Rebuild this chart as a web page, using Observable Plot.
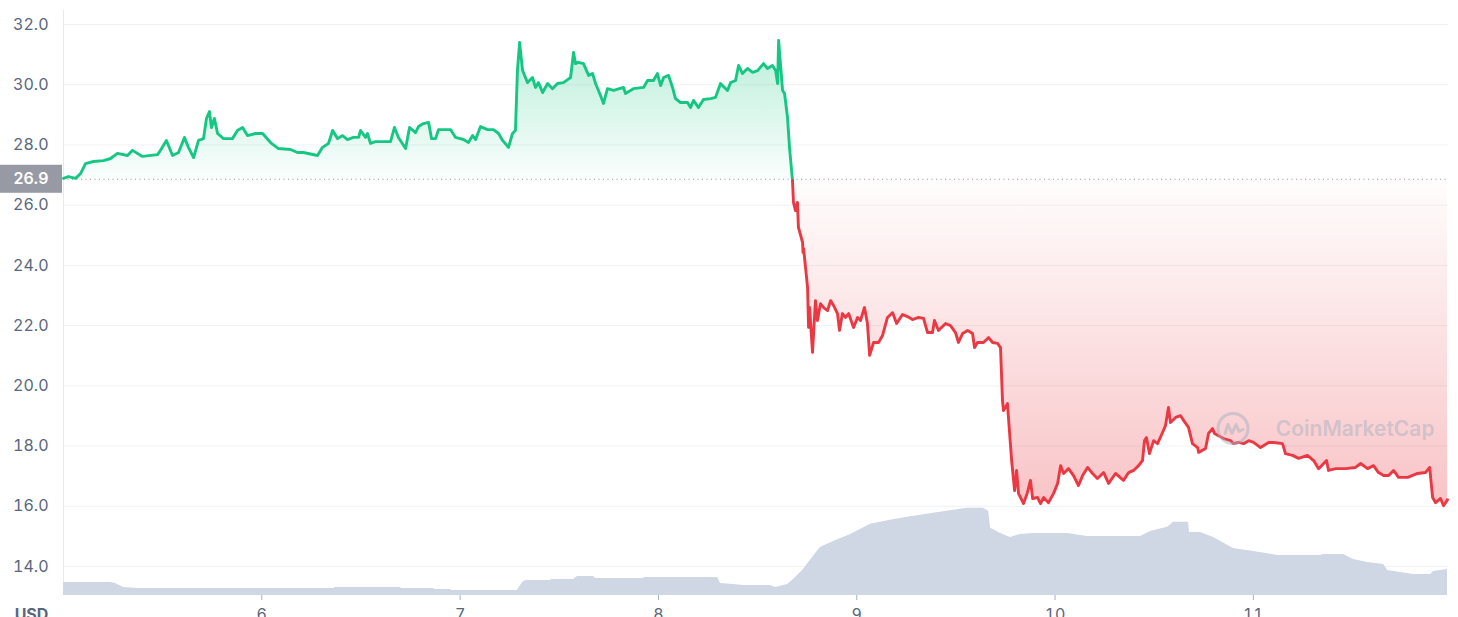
<!DOCTYPE html>
<html><head><meta charset="utf-8">
<script src="https://cdn.jsdelivr.net/npm/d3@7"></script>
<script src="https://cdn.jsdelivr.net/npm/@observablehq/plot@0.6"></script>
<style>html,body{margin:0;padding:0;background:#fff;overflow:hidden;}#chart svg{display:block;}</style>
</head><body><div id="chart"></div>
<script>
const priceDays = [
5.000,5.025,5.061,5.086,5.111,5.151,5.202,5.237,5.272,5.323,
5.348,5.398,5.474,5.489,5.519,5.550,5.580,5.610,5.630,5.656,
5.681,5.706,5.721,5.736,5.746,5.761,5.777,5.807,5.852,5.877,
5.903,5.928,5.968,6.004,6.044,6.084,6.145,6.180,6.210,6.281,
6.306,6.336,6.357,6.382,6.407,6.432,6.462,6.488,6.498,6.523,
6.533,6.548,6.573,6.649,6.669,6.689,6.725,6.745,6.775,6.790,
6.815,6.841,6.856,6.876,6.891,6.952,6.977,7.017,7.042,7.063,
7.078,7.103,7.138,7.168,7.194,7.214,7.244,7.264,7.279,7.289,
7.300,7.315,7.340,7.365,7.380,7.395,7.416,7.441,7.466,7.491,
7.521,7.542,7.557,7.572,7.582,7.597,7.622,7.648,7.668,7.683,
7.708,7.723,7.743,7.774,7.824,7.834,7.874,7.925,7.945,7.975,
7.995,8.011,8.026,8.051,8.071,8.086,8.111,8.147,8.162,8.177,
8.202,8.227,8.263,8.288,8.313,8.348,8.364,8.389,8.404,8.424,
8.449,8.475,8.500,8.530,8.550,8.575,8.591,8.601,8.606,8.626,
8.636,8.651,8.661,8.676,
8.681,8.691,8.701,8.706,8.727,8.729,8.732,8.752,8.757,8.762,
8.777,8.792,8.802,8.817,8.833,8.853,8.868,8.883,8.903,8.913,
8.928,8.944,8.959,8.984,9.004,9.019,9.039,9.054,9.065,9.085,
9.110,9.130,9.155,9.181,9.201,9.231,9.256,9.281,9.312,9.337,
9.357,9.382,9.392,9.412,9.448,9.473,9.498,9.513,9.534,9.559,
9.584,9.594,9.609,9.639,9.665,9.685,9.710,9.725,9.735,9.740,
9.760,9.765,9.781,9.796,9.806,9.816,9.841,9.861,9.876,9.887,
9.912,9.927,9.942,9.967,9.992,10.013,10.028,10.043,10.068,10.093,
10.118,10.139,10.164,10.189,10.214,10.245,10.270,10.305,10.345,10.371,
10.396,10.421,10.441,10.451,10.461,10.476,10.497,10.517,10.542,10.557,
10.572,10.582,10.608,10.633,10.648,10.673,10.693,10.719,10.724,10.759,
10.774,10.794,10.804,10.850,10.885,10.900,10.925,10.951,10.976,11.001,
11.036,11.077,11.102,11.147,11.162,11.198,11.228,11.273,11.304,11.329,
11.369,11.379,11.415,11.465,11.515,11.541,11.576,11.606,11.631,11.657,
11.682,11.707,11.732,11.778,11.828,11.868,11.889,11.904,11.919,11.944,
11.959,11.979];
const priceValues = [
26.89,26.95,26.89,27.05,27.38,27.45,27.48,27.55,27.72,27.65,
27.82,27.62,27.68,27.82,28.15,27.65,27.75,28.25,27.92,27.58,
28.15,28.21,28.88,29.11,28.58,28.88,28.38,28.21,28.21,28.48,
28.58,28.31,28.38,28.38,28.08,27.88,27.85,27.75,27.75,27.65,
27.92,28.05,28.48,28.21,28.31,28.18,28.25,28.25,28.48,28.25,
28.38,28.05,28.11,28.11,28.58,28.25,27.88,28.58,28.41,28.61,
28.71,28.75,28.21,28.21,28.51,28.51,28.25,28.18,28.08,28.31,
28.18,28.61,28.51,28.51,28.38,28.15,27.92,28.38,28.48,30.47,
31.40,30.47,30.07,30.24,29.91,30.07,29.74,30.04,29.87,30.04,
30.07,30.17,30.24,31.07,30.70,30.74,30.70,30.31,30.37,30.04,
29.64,29.38,29.87,29.81,29.91,29.71,29.87,29.91,30.14,30.14,
30.37,29.97,30.24,30.31,29.91,29.54,29.41,29.41,29.24,29.48,
29.24,29.51,29.54,29.58,30.04,29.81,30.07,30.14,30.64,30.37,
30.54,30.41,30.47,30.70,30.54,30.64,30.47,30.04,31.47,29.81,
29.71,28.91,27.91,26.82,
26.09,25.82,26.09,25.26,24.76,24.43,24.56,23.27,21.94,22.60,
21.11,22.83,22.17,22.73,22.60,22.50,22.83,22.67,22.40,21.84,
22.40,22.27,22.40,21.94,22.27,22.17,22.60,22.07,21.01,21.44,
21.44,21.67,22.27,22.43,22.07,22.37,22.30,22.20,22.27,22.24,
21.77,21.77,22.17,21.84,22.07,22.00,21.77,21.44,21.74,21.84,
21.74,21.27,21.44,21.44,21.60,21.44,21.41,21.27,19.51,19.18,
19.41,18.95,17.52,16.52,17.19,16.42,16.09,16.46,16.86,16.26,
16.29,16.09,16.29,16.12,16.42,16.76,17.35,17.09,17.25,17.02,
16.69,17.02,17.29,17.09,16.92,17.12,16.76,17.09,16.86,17.12,
17.19,17.35,17.52,18.18,18.28,17.75,18.18,18.08,18.45,18.68,
19.28,18.78,18.95,19.01,18.85,18.62,18.08,17.95,17.79,17.92,
18.42,18.58,18.42,18.25,18.18,18.08,18.12,18.08,18.18,18.12,
17.95,18.12,18.12,18.08,17.75,17.69,17.59,17.69,17.52,17.25,
17.52,17.19,17.25,17.25,17.29,17.42,17.25,17.35,17.12,17.02,
17.02,17.19,16.96,16.96,17.09,17.12,17.29,16.29,16.12,16.26,
16.02,16.22];
const volumeDays = [5.000,5.237,5.262,5.303,5.373,6.362,6.370,6.699,6.704,6.866,6.871,6.952,6.957,7.289,7.315,7.330,7.456,7.461,7.572,7.592,7.673,7.683,7.925,7.930,8.298,8.313,8.379,8.429,8.565,8.591,8.651,8.681,8.727,8.777,8.817,8.883,8.969,9.070,9.170,9.256,9.387,9.523,9.559,9.639,9.665,9.675,9.725,9.776,9.826,9.892,9.977,10.063,10.164,10.431,10.482,10.567,10.598,10.673,10.678,10.734,10.799,10.900,11.001,11.122,11.339,11.354,11.455,11.505,11.576,11.657,11.677,11.742,11.808,11.894,11.909,11.979];
const volumeValues = [39,39,36,24,21,21,24,24,21,21,18,18,15,15,39,45,45,48,48,57,57,51,51,54,54,36,33,30,30,24,33,48,75,114,144,162,183,213,225,234,246,258,261,261,252,201,186,174,183,186,186,186,177,177,192,204,219,219,189,189,174,141,132,120,120,123,123,108,99,93,75,69,63,63,72,78];
const xTicks = [6, 7, 8, 9, 10, 11];
const yTicks = [14, 16, 18, 20, 22, 24, 26, 28, 30, 32];
const baselinePrice = 26.86;
const currencyLabel = "USD";
const watermarkLabel = "CoinMarketCap";
const xDomain = [5, 11.984];
const yDomain = [13.037, 32.465];
const volumeShare = 0.149;

const prices = priceDays.map((d, i) => ({day: d, price: priceValues[i]}));
const cross = prices.findIndex(d => d.day > 8 && d.price < baselinePrice);
const up = prices.slice(0, cross + 1);
const down = prices.slice(cross);
const vMax = d3.max(volumeValues);
const vol = volumeDays.map((d, i) => ({day: d, top: yDomain[0] + volumeValues[i] / vMax * volumeShare * (yDomain[1] - yDomain[0])}));

const W = 1458, H = 640, ML = 63, MR = 10, MT = 10, MB = 45;
const chart = Plot.plot({
  width: W, height: H, marginLeft: ML, marginRight: MR, marginTop: MT, marginBottom: MB,
  x: {domain: xDomain},
  y: {domain: yDomain},
  style: {fontFamily: "Inter, sans-serif", fontSize: "16px", color: "#58667e", background: "#fff"},
  marks: [
    Plot.ruleY(yTicks, {stroke: "#eff2f5", strokeWidth: 1}),
    Plot.ruleX([xDomain[0]], {stroke: "#e6e9ee", strokeWidth: 1}),
    Plot.areaY(vol, {x: "day", y1: yDomain[0], y2: "top", fill: "#cfd6e4"}),
    Plot.areaY(up, {x: "day", y1: baselinePrice, y2: "price", fill: "url(#gUp)"}),
    Plot.areaY(down, {x: "day", y1: baselinePrice, y2: "price", fill: "url(#gDown)"}),
    Plot.ruleY([baselinePrice], {stroke: "#8d94a3", strokeWidth: 1, strokeDasharray: "1,3.5"}),
    Plot.lineY(up, {x: "day", y: "price", stroke: "#16c784", strokeWidth: 2.9, strokeLinejoin: "round"}),
    Plot.lineY(down, {x: "day", y: "price", stroke: "#ea3943", strokeWidth: 2.9, strokeLinejoin: "round"}),
    Plot.axisX(xTicks, {tickSize: 5, tickPadding: 8, stroke: "#a6b0c3", fill: "#58667e", tickFormat: d => String(d), label: null}),
    Plot.axisY(yTicks, {tickSize: 0, tickPadding: 15, tickFormat: d => d.toFixed(1), fill: "#58667e", label: null}),
    Plot.text([currencyLabel], {text: d => d, frameAnchor: "bottom-left", dx: -32, dy: 13, lineAnchor: "top", textAnchor: "middle", fontWeight: 700, fill: "#58667e", fontSize: 16}),
    Plot.text([watermarkLabel], {text: d => d, frameAnchor: "right", dx: -14, dy: 126, textAnchor: "end", fontWeight: 600, fontSize: 21, fill: "#a7b1c2", fillOpacity: 0.5})
  ]
});
document.getElementById("chart").appendChild(chart);

// gradients, badge, logo
const svg = d3.select(chart);
const defs = svg.insert("defs", ":first-child");
const g1 = defs.append("linearGradient").attr("id", "gUp").attr("x1", 0).attr("y1", 0).attr("x2", 0).attr("y2", 1);
g1.append("stop").attr("offset", "0%").attr("stop-color", "#16c784").attr("stop-opacity", 0.3);
g1.append("stop").attr("offset", "100%").attr("stop-color", "#16c784").attr("stop-opacity", 0.02);
const g2 = defs.append("linearGradient").attr("id", "gDown").attr("x1", 0).attr("y1", 0).attr("x2", 0).attr("y2", 1);
g2.append("stop").attr("offset", "0%").attr("stop-color", "#ea3943").attr("stop-opacity", 0.01);
g2.append("stop").attr("offset", "100%").attr("stop-color", "#ea3943").attr("stop-opacity", 0.3);

const yb = chart.scale("y").apply(baselinePrice);
const badge = svg.append("g");
badge.append("rect").attr("x", 0).attr("y", yb - 14).attr("width", ML - 1).attr("height", 28).attr("fill", "#979aa4");
badge.append("text").attr("x", (ML - 1) / 2).attr("y", yb).attr("dy", "0.35em").attr("text-anchor", "middle")
  .attr("fill", "#fff").attr("font-size", 16).attr("font-weight", 600).attr("font-family", "Inter, sans-serif")
  .text(d3.format(".1f")(baselinePrice));

const frameCenterY = (MT + H - MB) / 2;
const lx = W - MR - 215, ly = frameCenterY + 126;
const logo = svg.append("g").attr("transform", `translate(${lx},${ly})`).attr("opacity", 0.5)
  .attr("fill", "none").attr("stroke", "#a7b1c2").attr("stroke-width", 3).attr("stroke-linecap", "round").attr("stroke-linejoin", "round");
logo.append("circle").attr("r", 15);
logo.append("path").attr("d", "M-8,5 L-5,-4 L-1,5 L3,-4 L6,3 L10,1");
</script>
</body></html>
